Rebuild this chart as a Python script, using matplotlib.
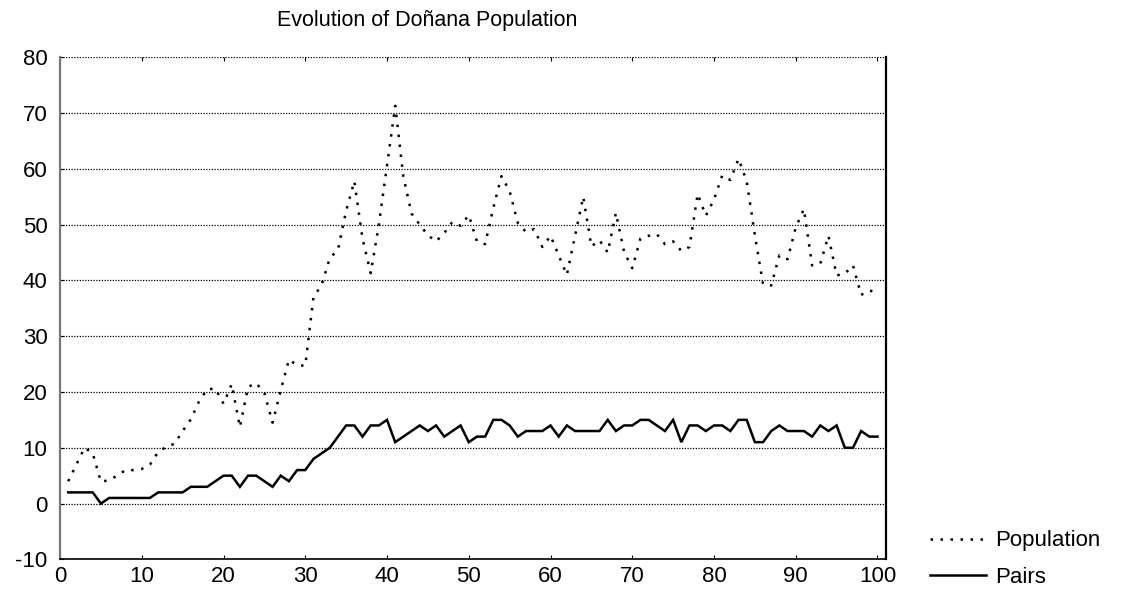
import matplotlib
matplotlib.use("Agg")
import matplotlib.pyplot as plt
import numpy as np

plt.rcParams['font.family'] = ['Liberation Sans', 'DejaVu Sans']
plt.rcParams['axes.unicode_minus'] = False

# generation index
steps = np.arange(1, 101)

population = [4.0, 7.0, 10.0, 9.0, 3.9, 4.2, 5.0, 6.0, 6.0, 6.2,
              7.0, 9.2, 10.2, 10.7, 13.0, 15.1, 18.3, 20.5, 20.6, 17.9,
              21.4, 13.7, 20.9, 21.6, 19.8, 14.5, 20.3, 25.8, 24.8, 24.7,
              37.0, 39.2, 44.0, 45.5, 52.5, 57.8, 47.5, 41.3, 50.0, 60.6,
              71.3, 58.6, 52.0, 50.0, 48.1, 47.0, 48.5, 50.5, 49.8, 51.7,
              47.0, 46.5, 53.0, 58.7, 56.0, 50.3, 48.7, 49.2, 46.0, 48.0,
              44.5, 41.0, 48.0, 55.0, 46.1, 47.2, 45.0, 52.1, 45.1, 42.2,
              47.5, 48.0, 48.3, 46.5, 47.0, 45.3, 46.0, 55.5, 51.6, 54.5,
              58.8, 58.0, 61.8, 57.8, 48.1, 39.3, 39.1, 44.5, 43.8, 49.5,
              52.8, 42.7, 43.0, 48.0, 40.9, 41.2, 42.7, 37.4, 38.2, 37.8]

pairs = [2, 2, 2, 2, 0, 1, 1, 1, 1, 1,
         1, 2, 2, 2, 2, 3, 3, 3, 4, 5,
         5, 3, 5, 5, 4, 3, 5, 4, 6, 6,
         8, 9, 10, 12, 14, 14, 12, 14, 14, 15,
         11, 12, 13, 14, 13, 14, 12, 13, 14, 11,
         12, 12, 15, 15, 14, 12, 13, 13, 13, 14,
         12, 14, 13, 13, 13, 13, 15, 13, 14, 14,
         15, 15, 14, 13, 15, 11, 14, 14, 13, 14,
         14, 13, 15, 15, 11, 11, 13, 14, 13, 13,
         13, 12, 14, 13, 14, 10, 10, 13, 12, 12]

xticks = [0, 10, 20, 30, 40, 50, 60, 70, 80, 90, 100]
yticks = [-10, 0, 10, 20, 30, 40, 50, 60, 70, 80]

fig = plt.figure(figsize=(11.33, 5.92), dpi=100)
ax = fig.add_axes([0.053, 0.0552, 0.7287, 0.848])

ax.plot(steps, population, color='black', lw=1.8, dashes=(1, 3),
        label='Population')
ax.plot(steps, pairs, color='black', lw=1.8, solid_joinstyle='miter',
        label='Pairs')

ax.set_xlim(0, 101)
ax.set_ylim(-10, 80)
ax.set_xticks(xticks)
ax.set_yticks(yticks)
ax.tick_params(axis='both', direction='in', labelsize=16, length=3,
               top=True, right=False, width=0.8)
ax.tick_params(axis='y', pad=9)
ax.tick_params(axis='x', pad=5)

# dotted horizontal grid, no vertical one
ax.yaxis.grid(True, color='black', lw=0.9, linestyle=(0, (1, 1.2)))
ax.set_axisbelow(True)

ax.spines['top'].set_visible(False)
ax.spines['left'].set_color('#777777')
ax.spines['left'].set_linewidth(1.6)
ax.spines['right'].set_linewidth(1.6)
ax.spines['bottom'].set_linewidth(1.2)

fig.text(0.3773, 0.966, 'Evolution of Doñana Population', ha='center',
         va='center', fontsize=15.5)

fig.legend(loc='center left', bbox_to_anchor=(0.8208, 0.0557), frameon=False,
           fontsize=16, handlelength=2.5, handletextpad=0.45,
           labelspacing=0.68, borderpad=0, borderaxespad=0)

fig.savefig('out.png', dpi=100)
